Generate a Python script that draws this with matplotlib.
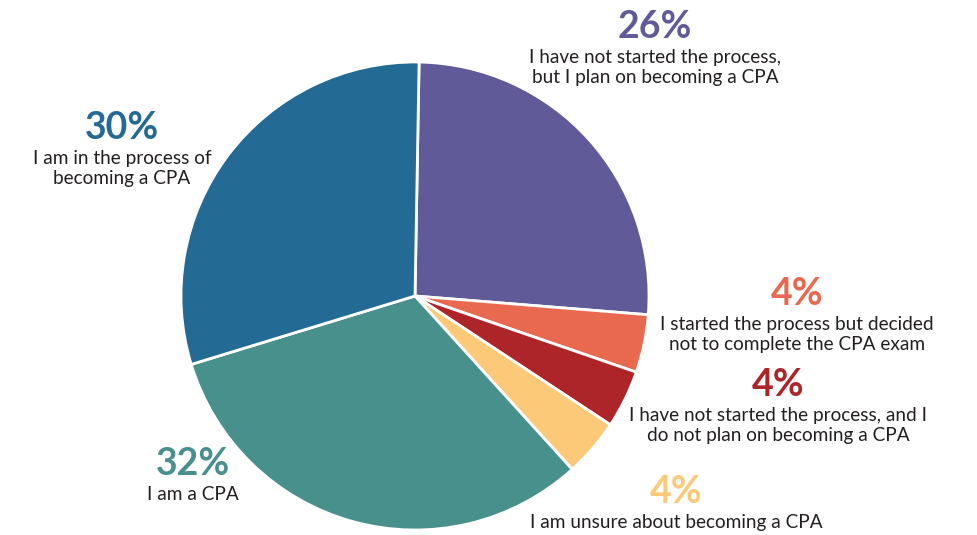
import matplotlib.pyplot as plt

plt.rcParams['font.family'] = ['Lato', 'DejaVu Sans']

# data, clockwise from the top
shares = [26, 4, 4, 4, 32, 30]
labels = [
    "I have not started the process,\nbut I plan on becoming a CPA",
    "I started the process but decided\nnot to complete the CPA exam",
    "I have not started the process, and I\ndo not plan on becoming a CPA",
    "I am unsure about becoming a CPA",
    "I am a CPA",
    "I am in the process of\nbecoming a CPA",
]
colors = ['#615a98', '#e8694f', '#ad2429', '#fbc977', '#48908c', '#236a95']

# label anchors in pixels (x, y of the percent text, from top left)
label_xy = [(655, 27), (797, 294), (778, 385), (676, 492), (193, 464), (122, 128)]

W, H = 977, 535
fig = plt.figure(figsize=(W / 100, H / 100), dpi=100)

cx, cy, r = 415, 296, 234
ax = fig.add_axes([(cx - r) / W, (H - cy - r) / H, 2 * r / W, 2 * r / H])
ax.pie(shares, colors=colors, startangle=89, counterclock=False,
       wedgeprops=dict(edgecolor='white', linewidth=2))
ax.set_xlim(-1, 1)
ax.set_ylim(-1, 1)
ax.set_aspect('equal')
ax.axis('off')

for s, lab, c, (x, y) in zip(shares, labels, colors, label_xy):
    fig.text(x / W, 1 - y / H, f"{s}%", color=c, fontsize=27, fontweight='bold',
             ha='center', va='center')
    fig.text(x / W, 1 - (y + 22) / H, lab, color='#231f20', fontsize=13.7,
             ha='center', va='top', linespacing=1.2)

fig.savefig('out.png', dpi=100)
